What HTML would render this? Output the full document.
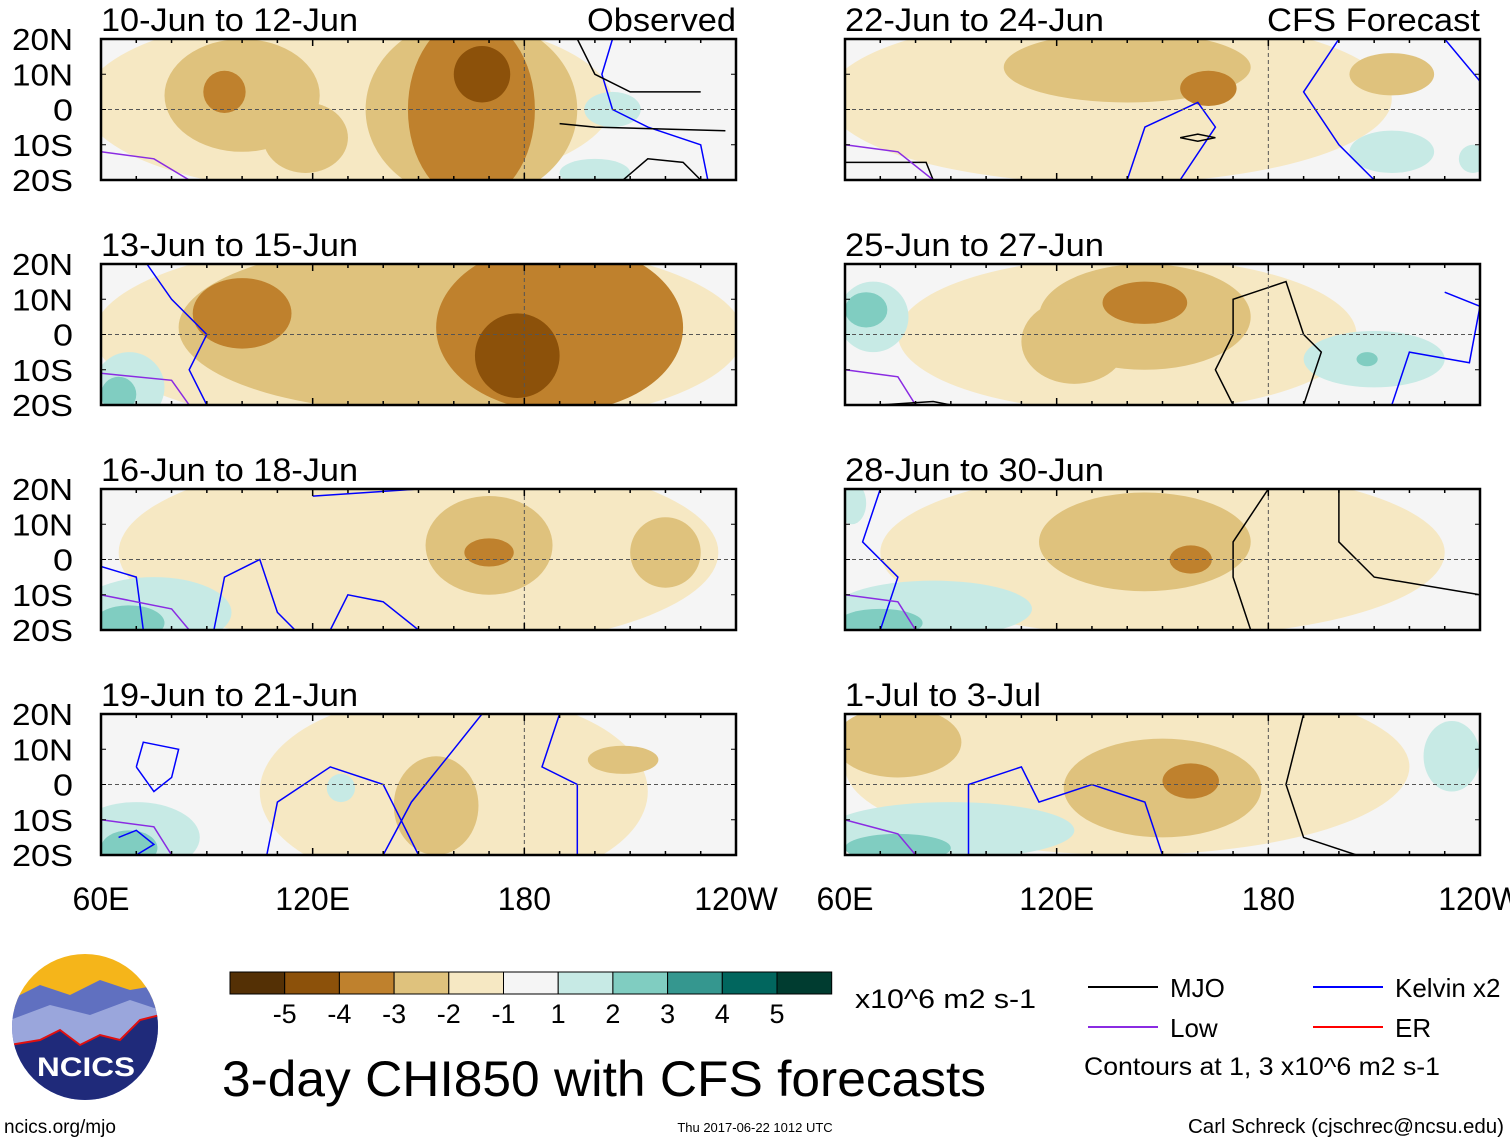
<!DOCTYPE html>
<html><head><meta charset="utf-8"><style>
body{margin:0;background:#fff;}
svg{display:block;font-family:"Liberation Sans",Arial,sans-serif;}
</style></head><body>
<svg id="s" width="1510" height="1142" viewBox="0 0 1510 1142">
<defs></defs>
</svg>
<script>
// ---- data ----
const panelTitles=["10-Jun to 12-Jun","13-Jun to 15-Jun","16-Jun to 18-Jun","19-Jun to 21-Jun","22-Jun to 24-Jun","25-Jun to 27-Jun","28-Jun to 30-Jun","1-Jul to 3-Jul"];
const levelColors={"-5":"#543005","-4":"#8c510a","-3":"#bf812d","-2":"#dfc27d","-1":"#f6e8c3","1":"#c7eae5","2":"#80cdc1","3":"#35978f","4":"#01665e","5":"#003c30"};
const colorbarLabels=["-5","-4","-3","-2","-1","1","2","3","4","5"];
const latLabels=["20N","10N","0","10S","20S"];
const lonLabels=["60E","120E","180","120W"];
// blobs: [lon, lat, rLon, rLat, level]
const blobs0=[[130,2,75,26,-1],[100,4,22,16,-2],[165,0,30,26,-2],[118,-8,12,10,-2],[95,5,6,6,-3],[165,0,18,26,-3],[168,10,8,8,-4],[205,0,8,5,1],[200,-18,10,4,1]];
const blobs1=[[150,0,92,28,-1],[150,2,68,24,-2],[100,6,14,10,-3],[190,2,35,24,-3],[178,-6,12,12,-4],[68,-15,10,10,1],[65,-17,5,5,2]];
const blobs2=[[150,2,85,28,-1],[170,4,18,14,-2],[220,2,10,10,-2],[170,2,7,4,-3],[75,-15,22,10,1],[68,-18,10,5,2],[200,6,10,5,0]];
const blobs3=[[160,-2,55,28,-1],[155,-6,12,14,-2],[208,7,10,4,-2],[70,-15,18,10,1],[68,-18,8,5,2],[128,-1,4,4,1]];
const blobs4=[[135,3,80,24,-1],[140,12,35,10,-2],[163,6,8,5,-3],[215,10,12,6,-2],[215,-12,12,6,1],[238,-14,4,4,1]];
const blobs5=[[140,0,65,22,-1],[145,5,30,15,-2],[145,9,12,6,-3],[68,5,10,10,1],[66,7,6,5,2],[210,-7,20,8,1],[208,-7,3,2,2],[125,-2,15,12,-2]];
const blobs6=[[150,2,80,24,-1],[145,5,30,14,-2],[158,0,6,4,-3],[85,-14,28,8,1],[70,-18,12,4,2],[62,16,4,6,1]];
const blobs7=[[140,5,80,25,-1],[75,12,18,10,-2],[150,-1,28,14,-2],[158,1,8,5,-3],[90,-13,35,8,1],[75,-18,15,4,2],[232,8,8,10,1]];
const panelBlobs=[blobs0,blobs1,blobs2,blobs3,blobs4,blobs5,blobs6,blobs7];
// contours: [color, [lon,lat,...]]
const lines0=[["#8a2be2",[60,-12,75,-14,85,-20]],["#0000ff",[205,20,202,10,205,0,215,-5,230,-10,232,-20]],["#000",[195,20,200,10,210,5,230,5]],["#000",[208,-20,215,-14,225,-15,230,-20]],["#000",[190,-4,200,-5,237,-6]]];
const lines1=[["#0000ff",[73,20,80,10,90,0,85,-10,90,-20]],["#8a2be2",[60,-11,80,-13,85,-20]]];
const lines2=[["#0000ff",[60,-2,70,-5,72,-20]],["#0000ff",[92,-20,95,-5,105,0,110,-15,115,-20]],["#0000ff",[125,-20,130,-10,140,-12,150,-20]],["#0000ff",[120,18,150,20]],["#8a2be2",[60,-10,80,-14,85,-20]]];
const lines3=[["#0000ff",[70,5,72,12,82,10,80,2,75,-2,70,5]],["#0000ff",[107,-20,110,-5,125,5,140,0,145,-10,150,-20]],["#0000ff",[140,-20,148,-5,160,10,168,20]],["#0000ff",[190,20,185,5,195,0,195,-20]],["#0000ff",[65,-15,70,-13,75,-17,70,-20]],["#8a2be2",[60,-10,75,-12,80,-20]]];
const lines4=[["#000",[60,-15,83,-15,85,-20]],["#8a2be2",[60,-10,75,-12,85,-20]],["#0000ff",[140,-20,145,-5,160,2,165,-5,155,-20]],["#0000ff",[240,8,230,20,200,20,190,5,200,-10,210,-20]],["#000",[155,-8,160,-9,165,-8,160,-7,155,-8]]];
const lines5=[["#000",[170,-20,165,-10,170,0,170,10,185,15,190,0,195,-5,190,-20]],["#0000ff",[230,12,240,8,237,-8,220,-5,215,-20]],["#8a2be2",[60,-10,75,-12,80,-20]],["#000",[70,-20,85,-19,90,-20]]];
const lines6=[["#000",[175,-20,170,-5,170,5,180,20]],["#000",[200,20,200,5,210,-5,240,-10]],["#0000ff",[70,20,65,5,75,-5,70,-20]],["#8a2be2",[60,-10,75,-12,80,-20]]];
const lines7=[["#000",[190,20,185,0,190,-15,205,-20]],["#0000ff",[95,-20,95,0,110,5,115,-5,130,0,145,-5,150,-20]],["#8a2be2",[60,-10,75,-14,80,-20]]];
const panelLines=[lines0,lines1,lines2,lines3,lines4,lines5,lines6,lines7];
// ---- layout ----
const S=document.getElementById('s'),NS="http://www.w3.org/2000/svg";
function el(t,a,p){const e=document.createElementNS(NS,t);for(const k in a)e.setAttribute(k,a[k]);(p||S).appendChild(e);return e;}
const colX=[101,845],rowY=[39,264,489,714],PW=635,PH=141;
const order=[[0,0],[0,1],[0,2],[0,3],[1,0],[1,1],[1,2],[1,3]];
const titleLen={"10-Jun to 12-Jun":257,"13-Jun to 15-Jun":257,"16-Jun to 18-Jun":257,"19-Jun to 21-Jun":257,"22-Jun to 24-Jun":259,"25-Jun to 27-Jun":259,"28-Jun to 30-Jun":259,"1-Jul to 3-Jul":196};
order.forEach(([c,r],i)=>{
 const x0=colX[c],y0=rowY[r];
 const X=lon=>x0+(lon-60)*PW/180, Y=lat=>y0+(20-lat)*PH/40;
 const g=el('g',{});
 
 
 const cp=el('clipPath',{id:'cp'+i},document.querySelector('defs'));
 el('rect',{x:x0,y:y0,width:PW,height:PH},cp);
 el('rect',{x:x0,y:y0,width:PW,height:PH,fill:'#f5f5f5'},g);
 const fg=el('g',{'clip-path':'url(#cp'+i+')'},g);
 const bl=panelBlobs[i].slice().sort((a,b)=>Math.abs(a[4])-Math.abs(b[4]));
 bl.forEach(b=>{
  const e=el('ellipse',{cx:X(b[0]),cy:Y(b[1]),rx:b[2]*PW/180,ry:b[3]*PH/40,fill:b[4]==0?'#f5f5f5':levelColors[b[4]]},fg);
  
  
 });
 panelLines[i].forEach(l=>{
  let d='';for(let k=0;k<l[1].length;k+=2)d+=(k?'L':'M')+X(l[1][k]).toFixed(1)+','+Y(l[1][k+1]).toFixed(1);
  const p=el('path',{d:d,fill:'none',stroke:l[0],'stroke-width':1.5},fg);
  
  
 });
 el('line',{x1:x0,x2:x0+PW,y1:Y(0),y2:Y(0),stroke:'#555','stroke-dasharray':'4,3','stroke-width':1},g);
 el('line',{x1:X(180),x2:X(180),y1:y0,y2:y0+PH,stroke:'#555','stroke-dasharray':'4,3','stroke-width':1},g);
 el('rect',{x:x0,y:y0,width:PW,height:PH,fill:'none',stroke:'#000','stroke-width':2.5},g);
 for(let lon=60;lon<=240;lon+=10){el('line',{x1:X(lon),x2:X(lon),y1:y0,y2:y0+(lon%60?4:7),stroke:'#000','stroke-width':1.5},g);el('line',{x1:X(lon),x2:X(lon),y1:y0+PH,y2:y0+PH-(lon%60?4:7),stroke:'#000','stroke-width':1.5},g);}
 for(let lat=-20;lat<=20;lat+=10){el('line',{x1:x0,x2:x0+5,y1:Y(lat),y2:Y(lat),stroke:'#000'},g);el('line',{x1:x0+PW,x2:x0+PW-5,y1:Y(lat),y2:Y(lat),stroke:'#000'},g);}
 const t=el('text',{x:x0,y:y0-8,'font-size':32,textLength:titleLen[panelTitles[i]],lengthAdjust:'spacingAndGlyphs'},g);t.textContent=panelTitles[i];
 
 if(i==0){const o=el('text',{x:x0+PW-149,y:y0-8,'font-size':32,textLength:149,lengthAdjust:'spacingAndGlyphs'},g);o.textContent='Observed';}
 if(i==4){const o=el('text',{x:x0+PW-213,y:y0-8,'font-size':32,textLength:213,lengthAdjust:'spacingAndGlyphs'},g);o.textContent='CFS Forecast';}
 if(c==0)latLabels.forEach((s,k)=>{const w=s=='0'?20:61;const tt=el('text',{x:73-w,y:y0+k*PH/4+11,'font-size':31,textLength:w,lengthAdjust:'spacingAndGlyphs'},g);tt.textContent=s;
  });
 if(r==3)lonLabels.forEach((s,k)=>{const tt=el('text',{x:X(60+k*60),y:910,'font-size':32,'text-anchor':'middle'},g);tt.textContent=s;
  });
});
// colorbar
const cb=el('g',{});

const cbCols=["#543005","#8c510a","#bf812d","#dfc27d","#f6e8c3","#f5f5f5","#c7eae5","#80cdc1","#35978f","#01665e","#003c30"];
cbCols.forEach((c,k)=>el('rect',{x:230+k*54.7,y:972,width:54.7,height:22,fill:c,stroke:'#000','stroke-width':1},cb));
colorbarLabels.forEach((s,k)=>{const t=el('text',{x:230+(k+1)*54.7,y:1023,'font-size':27,'text-anchor':'middle'},cb);t.textContent=s;});
let t=el('text',{x:855,y:1008,'font-size':27,textLength:181,lengthAdjust:'spacingAndGlyphs'});t.textContent='x10^6 m2 s-1';
t=el('text',{x:222,y:1096,'font-size':50,textLength:764,lengthAdjust:'spacingAndGlyphs'});t.textContent='3-day CHI850 with CFS forecasts';

// legend
const lg=[["#000","MJO",1088,987],["#0000ff","Kelvin x2",1313,987],["#8a2be2","Low",1088,1027],["#ff0000","ER",1313,1027]];
lg.forEach(l=>{const g=el('g',{});
 el('line',{x1:l[2],x2:l[2]+70,y1:l[3],y2:l[3],stroke:l[0],'stroke-width':2},g);
 const tt=el('text',{x:l[2]+82,y:l[3]+10,'font-size':26},g);tt.textContent=l[1];});
t=el('text',{x:1084,y:1075,'font-size':25,textLength:356,lengthAdjust:'spacingAndGlyphs'});t.textContent='Contours at 1, 3 x10^6 m2 s-1';
t=el('text',{x:4,y:1133,'font-size':19});t.textContent='ncics.org/mjo';
t=el('text',{x:755,y:1132,'font-size':13,'text-anchor':'middle'});t.textContent='Thu 2017-06-22 1012 UTC';
t=el('text',{x:1504,y:1133,'font-size':20,'text-anchor':'end',textLength:316,lengthAdjust:'spacingAndGlyphs'});t.textContent='Carl Schreck (cjschrec@ncsu.edu)';
// logo
const lo=el('g',{});
const lc=el('clipPath',{id:'lc'},document.querySelector('defs'));el('circle',{cx:85,cy:1027,r:73},lc);
const lgg=el('g',{'clip-path':'url(#lc)'},lo);
el('rect',{x:0,y:950,width:170,height:60,fill:'#f5b51a'},lgg);
el('path',{d:'M10,1000 L40,985 L70,995 L100,980 L130,990 L160,985 L160,1110 L10,1110Z',fill:'#6070c0'},lgg);
el('path',{d:'M10,1020 L50,1005 L90,1015 L130,1000 L160,1010 L160,1110 L10,1110Z',fill:'#9aa6dc'},lgg);
el('path',{d:'M10,1045 L40,1040 L60,1030 L80,1045 L100,1035 L120,1040 L140,1020 L160,1015 L160,1110 L10,1110Z',fill:'#1f2a7a',stroke:'#e01010','stroke-width':2},lgg);
t=el('text',{x:37,y:1076,'font-size':27,'font-weight':'bold',fill:'#fff',textLength:98,lengthAdjust:'spacingAndGlyphs'},lo);t.textContent='NCICS';
</script>
</body></html>
